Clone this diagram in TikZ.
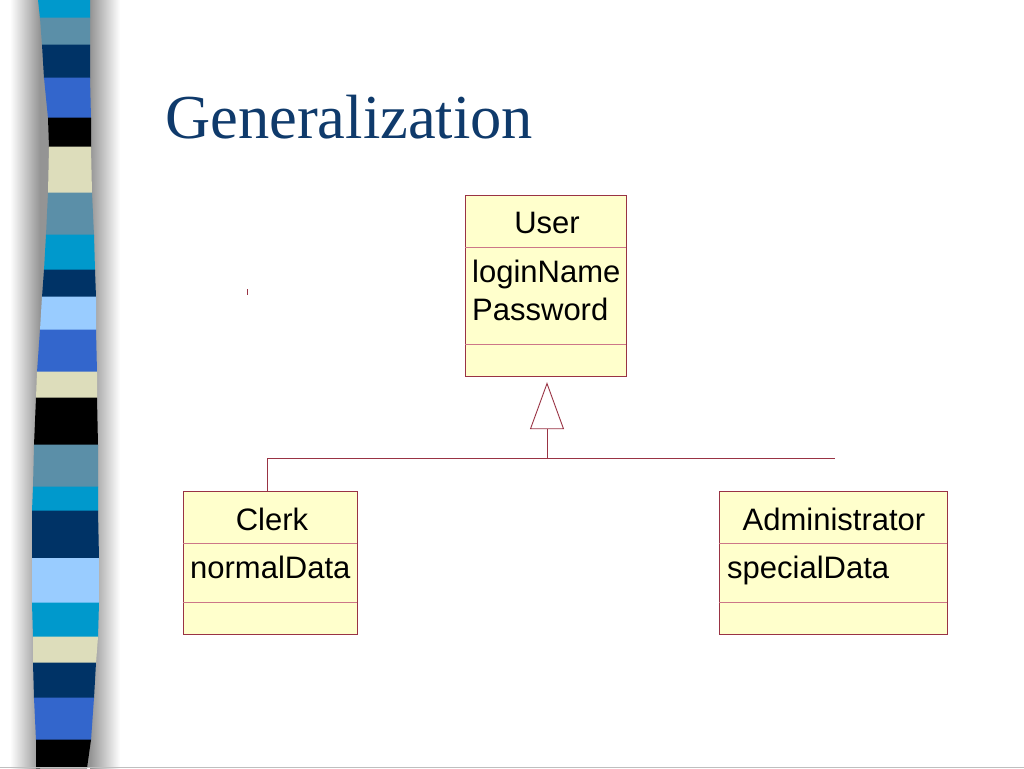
\documentclass[tikz,border=0pt]{standalone}
\usepackage{fontspec}
\setmainfont{Liberation Serif}
\newfontfamily\arialf{Liberation Sans}
\usetikzlibrary{arrows.meta}
\definecolor{cyanb}{HTML}{0099CC}
\definecolor{steel}{HTML}{5B8FA8}
\definecolor{navy}{HTML}{003366}
\definecolor{royal}{HTML}{3366CC}
\definecolor{beige}{HTML}{DDDDBB}
\definecolor{lightb}{HTML}{99CCFF}
\definecolor{titlec}{HTML}{0F3A6B}
\definecolor{umlfill}{HTML}{FFFFCC}
\definecolor{umlline}{HTML}{993344}
\definecolor{umldiv}{HTML}{CC7788}
\tikzset{
  umlbox/.style={draw=umlline, fill=umlfill, line width=1.2pt, anchor=north west, inner sep=0pt},
  divline/.style={draw=umldiv, line width=0.9pt},
  conn/.style={draw=umlline, line width=0.9pt},
  umltext/.style={font=\arialf\fontsize{31}{38}\selectfont, inner sep=0pt, text=black},
}
\begin{document}
\begin{tikzpicture}[x=1pt,y=-1pt]
\useasboundingbox (0,0) rectangle (1024,768);
\fill[white] (0,0) rectangle (1024,768);
% shadow behind the band
\shade[left color=white, right color=black!42] (10,0) rectangle (40,768);
\fill[black!42] (39.5,0) rectangle (90.5,768);
\shade[left color=black!42, right color=white] (90,0) rectangle (120,768);
% band stripes
\foreach \ya/\la/\ra/\yb/\lb/\rb/\col in {
  0/38/90/18/40/90/cyanb,
  18/40/90/45/42/90/steel,
  45/42/90/78/44/90/navy,
  78/44/90/118/48/91/royal,
  118/48/91/147/49/91/black,
  147/49/91/193/48/92/beige,
  193/48/92/235/46/94/steel,
  235/46/94/270/44/95/cyanb,
  270/44/95/297/42/96/navy,
  297/42/96/330/40/96/lightb,
  330/40/96/372/37/97/royal,
  372/37/97/398/36/97/beige,
  398/36/97/445/34/98/black,
  445/34/98/487/33/98/steel,
  487/33/98/511/32/98/cyanb,
  511/32/98/558/32/99/navy,
  558/32/99/603/32/99/lightb,
  603/32/99/637/33/98/cyanb,
  637/33/98/663/33/96/beige,
  663/33/96/698/34/94/navy,
  698/34/94/740/36/91/royal,
  740/36/91/768/36/87/black}
{
  \fill[\col] (\la,\ya-0.3) -- (\ra,\ya-0.3) -- (\rb,\yb+0.3) -- (\lb,\yb+0.3) -- cycle;
}
\draw[black!25, line width=1pt] (0,767.5) -- (1024,767.5);
% title
\node[anchor=base west, inner sep=0pt, text=titlec, font=\fontsize{62.5}{70}\selectfont] (title) at (165,138) {Generalization};
% small tick
\draw[umlline, line width=0.8pt] (247,289) -- (247,295);
% User class
\node[umlbox, minimum width=161pt, minimum height=181pt] (user) at (465,195) {};
\draw[divline] (465,247) -- (626,247);
\draw[divline] (465,344) -- (626,344);
\node[umltext, anchor=base] (usern) at (547,233) {User};
\node[umltext, anchor=base west] (login) at (472,282) {loginName};
\node[umltext, anchor=base west] (pass) at (472,320) {Password};
% Clerk class
\node[umlbox, minimum width=174pt, minimum height=143pt] (clerk) at (183,491) {};
\draw[divline] (183,543) -- (357,543);
\draw[divline] (183,602) -- (357,602);
\node[umltext, anchor=base] (clerkn) at (272,530) {Clerk};
\node[umltext, anchor=base west] (normal) at (190,578) {normalData};
% Administrator class
\node[umlbox, minimum width=228pt, minimum height=143pt] (admin) at (719,491) {};
\draw[divline] (719,543) -- (947,543);
\draw[divline] (719,602) -- (947,602);
\node[umltext, anchor=base] (adminn) at (834,530) {Administrator};
\node[umltext, anchor=base west] (special) at (727,578) {specialData};
% generalization connectors
\coordinate (jl) at (267,458);
\coordinate (jm) at (547,458);
\coordinate (jr) at (835,458);
\draw[conn] (jl) -- (jr);
\draw[conn] (jl) -- (jl |- clerk.north);
\draw[conn, -{Triangle[open, length=47pt, width=34pt, line width=0.9pt]}, shorten >=5pt] (jm) -- (jm |- user.south);
\end{tikzpicture}
\end{document}
